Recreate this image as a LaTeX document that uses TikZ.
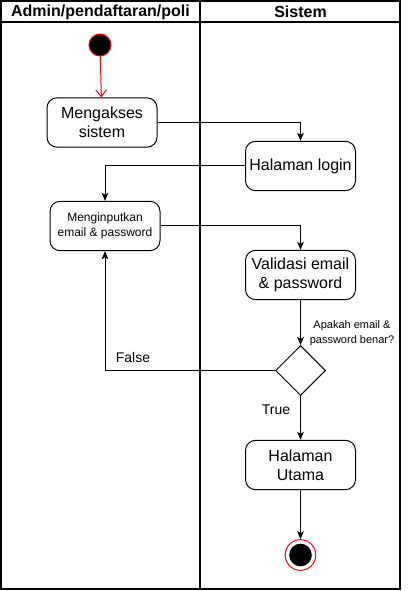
\documentclass[tikz,border=0pt]{standalone}
\usepackage{fontspec}
\setmainfont{Liberation Sans}
\usetikzlibrary{arrows.meta,shapes.geometric}
\begin{document}
\begin{tikzpicture}[x=0.75pt,y=-0.75pt,
  lane/.style={draw=black,line width=1.5pt},
  act/.style={draw=black,line width=0.75pt,rounded corners=7.5pt,fill=white,
    minimum width=82.5pt,minimum height=37pt,align=center,inner sep=1pt,
    font=\fontsize{12pt}{14pt}\selectfont},
  smallact/.style={act,font=\fontsize{9pt}{11.5pt}\selectfont},
  flow/.style={draw=black,line width=0.75pt,-{Stealth[length=6pt,width=5pt,inset=1.5pt]}},
  lbl/.style={font=\fontsize{10.5pt}{12pt}\selectfont,inner sep=0pt},
  note/.style={font=\fontsize{8.25pt}{11.25pt}\selectfont,align=center,inner sep=0pt},
  head/.style={font=\bfseries\fontsize{12pt}{14pt}\selectfont,inner sep=0pt}]
\useasboundingbox (0,0) rectangle (408,591);
% swimlane frame
\draw[lane] (1,1) rectangle (400,589);
\draw[lane] (1,22) -- (400,22);
\draw[lane] (200,1) -- (200,589);
\node[head] (h1) at (100.5,12) {Admin/pendaftaran/poli};
\node[head] (h2) at (300.5,12) {Sistem};
% initial and final states
\node[circle,draw=red,fill=black,line width=0.75pt,minimum size=22pt*0.75,inner sep=0pt] (start) at (100,45) {};
\node[circle,draw=red,line width=0.75pt,minimum size=23pt,inner sep=0pt] (endo) at (300.5,555) {};
\node[circle,fill=black,minimum size=17pt,inner sep=0pt] (endi) at (300.5,555) {};
% activities
\node[act] (akses) at (102,122.5) {Mengakses\\sistem};
\node[act] (login) at (300.5,166) {Halaman login};
\node[smallact] (input) at (105,226) {Menginputkan\\email \& password};
\node[act] (valid) at (300.5,275) {Validasi email\\\& password};
\node[diamond,draw=black,fill=white,line width=0.75pt,minimum width=37.5pt,minimum height=37.5pt,inner sep=0pt] (dec) at (300.5,370.5) {};
\node[act] (utama) at (300.5,465) {Halaman\\Utama};
% flows
\draw[red,line width=0.75pt,-{Straight Barb[length=5pt,width=8pt]}] (start) -- (akses);
\draw[flow] (akses.east) -| (login.north);
\draw[flow] (login.west) -| (input.north);
\draw[flow] (input.east) -| (valid.north);
\draw[flow] (valid) -- (dec);
\draw[flow] (dec.west) -| (input.south);
\draw[flow] (dec) -- (utama);
\draw[flow] (utama) -- (endo);
% labels
\node[lbl] (lfalse) at (133,357) {False};
\node[lbl] (ltrue) at (276,410) {True};
\node[note] (q) at (352,333) {Apakah email \&\\password benar?};
\end{tikzpicture}
\end{document}
